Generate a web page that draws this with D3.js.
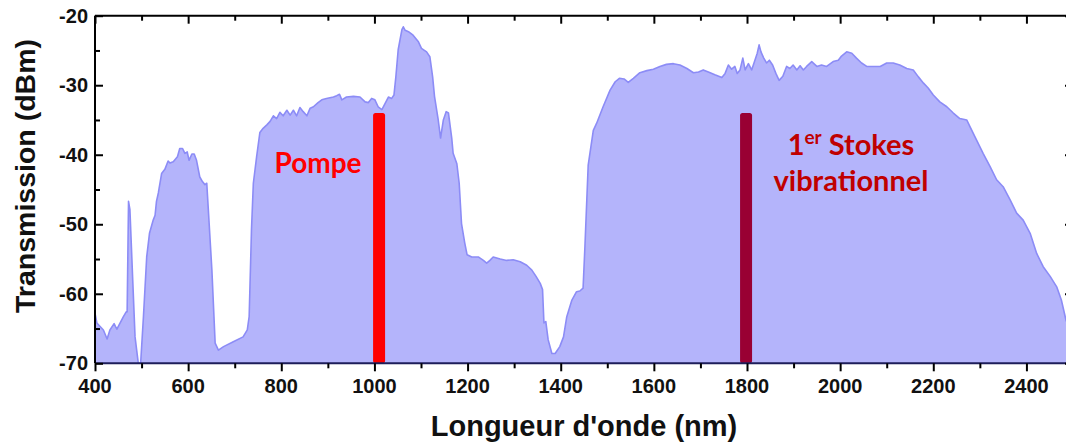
<!DOCTYPE html>
<html><head><meta charset="utf-8">
<script src="https://cdn.jsdelivr.net/npm/d3@7/dist/d3.min.js"></script>
<style>body{margin:0;background:#fff}svg{display:block}</style>
</head><body><svg id="c" width="1066" height="445"></svg>
<script>
const wavelength = [400,404,418,426,432,441,447,461,467,469,472,475,481,486,493,498,504,511,517,525,529,532,536,543,550,557,561,568,577,582,588,593,598,602,608,613,618,625,631,636,640,643,651,658,665,676,697,718,727,731,736,740,747,754,761,769,776,783,790,797,804,812,819,826,833,840,847,855,862,869,879,887,897,912,919,925,930,940,955,969,980,987,994,1001,1008,1016,1023,1030,1037,1042,1046,1051,1059,1062,1066,1073,1083,1094,1101,1112,1119,1125,1129,1137,1142,1148,1154,1159,1166,1169,1177,1182,1187,1194,1199,1209,1223,1234,1241,1248,1255,1270,1284,1298,1313,1327,1338,1347,1356,1361,1364,1368,1373,1381,1388,1398,1406,1413,1424,1434,1441,1448,1452,1456,1459,1470,1477,1491,1506,1517,1526,1536,1545,1556,1570,1585,1599,1613,1627,1642,1656,1671,1685,1696,1706,1717,1731,1746,1753,1760,1767,1774,1779,1785,1791,1796,1803,1810,1817,1822,1826,1830,1836,1842,1848,1855,1862,1869,1877,1885,1892,1899,1907,1914,1921,1928,1939,1950,1960,1971,1985,1996,2003,2014,2025,2035,2046,2057,2071,2086,2100,2114,2128,2143,2157,2168,2179,2189,2200,2214,2229,2243,2257,2272,2279,2293,2307,2322,2336,2350,2365,2379,2393,2408,2422,2436,2451,2465,2475,2485,2495,2500];
const transmission = [-62.8,-64.2,-65.2,-66.5,-65.2,-64.3,-65.1,-63.3,-62.6,-62.6,-46.7,-47.9,-58,-66.2,-70,-70,-63.3,-54.7,-51.3,-49.4,-48.7,-46.7,-45.5,-42.7,-42.1,-40.9,-41.2,-41.0,-40.3,-39.1,-39.1,-39.8,-39.6,-40.8,-39.9,-39.9,-40.8,-43.2,-43.9,-44.3,-44.1,-47.5,-56.6,-67.1,-68.1,-67.6,-66.9,-66.2,-65.2,-63.3,-50.8,-44.1,-40.3,-36.8,-36.2,-35.7,-35.2,-34.4,-34.8,-33.9,-34.4,-33.6,-34.3,-33.6,-34.4,-33.2,-33.8,-34.4,-33.3,-33.1,-32.5,-32.1,-31.9,-31.7,-31.5,-31.3,-32.1,-31.7,-31.6,-31.7,-32.4,-32.5,-31.9,-32.1,-33.1,-33.5,-32.6,-31.7,-31.9,-31.4,-28.8,-24.9,-22.0,-21.6,-22.1,-22.3,-22.8,-23.7,-24.7,-25.2,-25.9,-28.8,-31.6,-35,-37.6,-35,-33.8,-34,-37.6,-39.8,-41.3,-44.1,-49.9,-52.7,-54.4,-54.7,-54.7,-55.2,-55.6,-55.2,-54.7,-55.0,-55.2,-55.1,-55.4,-55.9,-56.6,-57.5,-58.5,-59.4,-64.2,-64.0,-66.6,-68.6,-68.6,-67.6,-66.2,-63.3,-60.9,-59.7,-59.6,-59.2,-53.2,-46.5,-41.5,-36.5,-35.5,-33.1,-30.7,-29.5,-29.0,-29.1,-29.6,-29.0,-28.2,-27.9,-27.7,-27.3,-27.0,-26.9,-27.1,-27.6,-28.2,-28.1,-27.8,-28.1,-28.5,-28.9,-28.3,-27.1,-27.7,-27.3,-28.3,-27.8,-26.1,-27.8,-26.9,-27.8,-26.4,-25.4,-24.2,-25.2,-26.1,-26.8,-26.4,-27.1,-28.3,-29.3,-28.7,-27.3,-27.6,-27.1,-27.8,-27.2,-27.8,-27.3,-26.6,-27.3,-27.1,-27.3,-26.6,-26.4,-25.8,-25.2,-25.4,-26.1,-26.8,-27.3,-27.3,-27.3,-26.8,-26.8,-27.1,-27.6,-27.8,-28.8,-29.7,-30.4,-31.4,-32.4,-33.1,-34.0,-34.8,-35.0,-36.0,-37.9,-39.8,-41.7,-43.6,-44.6,-46.5,-48.4,-49.4,-51.3,-54.2,-56.1,-57.5,-59.0,-60.9,-63.8,-65.5,-66.5];
const xTicks = [400,600,800,1000,1200,1400,1600,1800,2000,2200,2400];
const yTicks = [-20,-30,-40,-50,-60,-70];
const markerNames = ["Pompe","1er Stokes vibrationnel"];
const markerWavelength = [1010,1798];
const markerTop = [-34,-34];
const markerColors = ["#ff0000","#990033"];

const svg = d3.select("#c");
const L = 95, R = 1073, T = 15.7, B = 363.3;
const x = d3.scaleLinear().domain([400,2500]).range([L,R]);
const y = d3.scaleLinear().domain([-70,-20]).range([B,T]);
const data = wavelength.map((w,i)=>({w, v: transmission[i]}));

svg.append("defs").append("clipPath").attr("id","clip")
  .append("rect").attr("x",L).attr("y",T).attr("width",R-L).attr("height",B-T);

const g = svg.append("g").attr("clip-path","url(#clip)");
g.append("path").datum(data)
  .attr("d", d3.area().x(d=>x(d.w)).y0(y(-70)).y1(d=>y(d.v)))
  .attr("fill","#b4b4fb");
g.append("path").datum(data)
  .attr("d", d3.line().x(d=>x(d.w)).y(d=>y(d.v)))
  .attr("fill","none").attr("stroke","#8c8cf6").attr("stroke-width",1.6).attr("stroke-linejoin","round");

// marker bars
markerWavelength.forEach((w,i)=>{
  g.append("rect").attr("x", x(w)-6).attr("width",12)
   .attr("y", y(markerTop[i])).attr("height", y(-70)-y(markerTop[i]))
   .attr("rx",2.5).attr("fill", markerColors[i]);
});

const font = "'Liberation Sans', Arial, sans-serif";
const fmt = d => String(d).replace("\u2212","-");

// axes
const xb = d3.axisBottom(x).tickValues(d3.range(400,2501,100)).tickSize(8).tickFormat("");
const gb = svg.append("g").attr("transform",`translate(0,${B})`).call(xb);
gb.selectAll(".tick line").attr("y2", d => d%200===0 ? 8 : 5);
const xt = d3.axisTop(x).tickValues(d3.range(400,2501,100)).tickFormat("");
const gt = svg.append("g").attr("transform",`translate(0,${T})`).call(xt);
gt.selectAll(".tick line").attr("y2", d => d%200===0 ? 8 : 5);
const yl = d3.axisLeft(y).tickValues(d3.range(-70,-19,5)).tickFormat("");
const gl = svg.append("g").attr("transform",`translate(${L},0)`).call(yl);
gl.selectAll(".tick line").attr("x2", d => d%10===0 ? 8 : 5);
const yr = d3.axisRight(y).tickValues(d3.range(-70,-19,5)).tickFormat("");
const gr = svg.append("g").attr("transform",`translate(${R},0)`).call(yr);
gr.selectAll(".tick line").attr("x2", d => d%10===0 ? -8 : -5);
[gb,gt,gl,gr].forEach(a=>{
  a.select(".domain").attr("stroke","#000").attr("stroke-width",2);
  a.selectAll(".tick line").attr("stroke","#000").attr("stroke-width",2);
});
gb.select(".domain").attr("stroke","#1e1e5a");
[gb,gt].forEach(a=>a.select(".domain").attr("d",`M${L},0H${R}`));
[gl,gr].forEach(a=>a.select(".domain").attr("d",`M0,${T}V${B}`));

// tick labels
svg.append("g").selectAll("text").data(xTicks).join("text")
  .attr("x", d=>x(d)).attr("y", 393).attr("text-anchor","middle")
  .attr("font-family",font).attr("font-weight","bold").attr("font-size",20).attr("fill","#111")
  .text(d=>fmt(d));
svg.append("g").selectAll("text").data(yTicks).join("text")
  .attr("x", 88).attr("y", d=>y(d)+7).attr("text-anchor","end")
  .attr("font-family",font).attr("font-weight","bold").attr("font-size",20).attr("fill","#111")
  .text(d=>fmt(d));

// axis titles
svg.append("text").attr("x",584).attr("y",436).attr("text-anchor","middle")
  .attr("font-family",font).attr("font-weight","bold").attr("font-size",29).attr("fill","#111")
  .text("Longueur d'onde (nm)");
svg.append("text").attr("transform","translate(35,176) rotate(-90)").attr("text-anchor","middle")
  .attr("font-family",font).attr("font-weight","bold").attr("font-size",28.5).attr("fill","#111")
  .text("Transmission (dBm)");

// annotations
const afont = "Lato, 'Open Sans', sans-serif";
svg.append("text").attr("x",318).attr("y",173).attr("text-anchor","middle")
  .attr("font-family",afont).attr("font-weight","bold").attr("font-size",28).attr("fill",markerColors[0])
  .text(markerNames[0]);
const st = svg.append("text").attr("x",851).attr("y",155).attr("text-anchor","middle")
  .attr("font-family",afont).attr("font-weight","bold").attr("font-size",29).attr("fill","#c00000");
st.append("tspan").text("1");
st.append("tspan").attr("dy",-11).attr("font-size",19).text("er");
st.append("tspan").attr("dy",11).text(" Stokes");
svg.append("text").attr("x",851).attr("y",191).attr("text-anchor","middle")
  .attr("font-family",afont).attr("font-weight","bold").attr("font-size",29).attr("fill","#c00000")
  .text("vibrationnel");
</script></body></html>
